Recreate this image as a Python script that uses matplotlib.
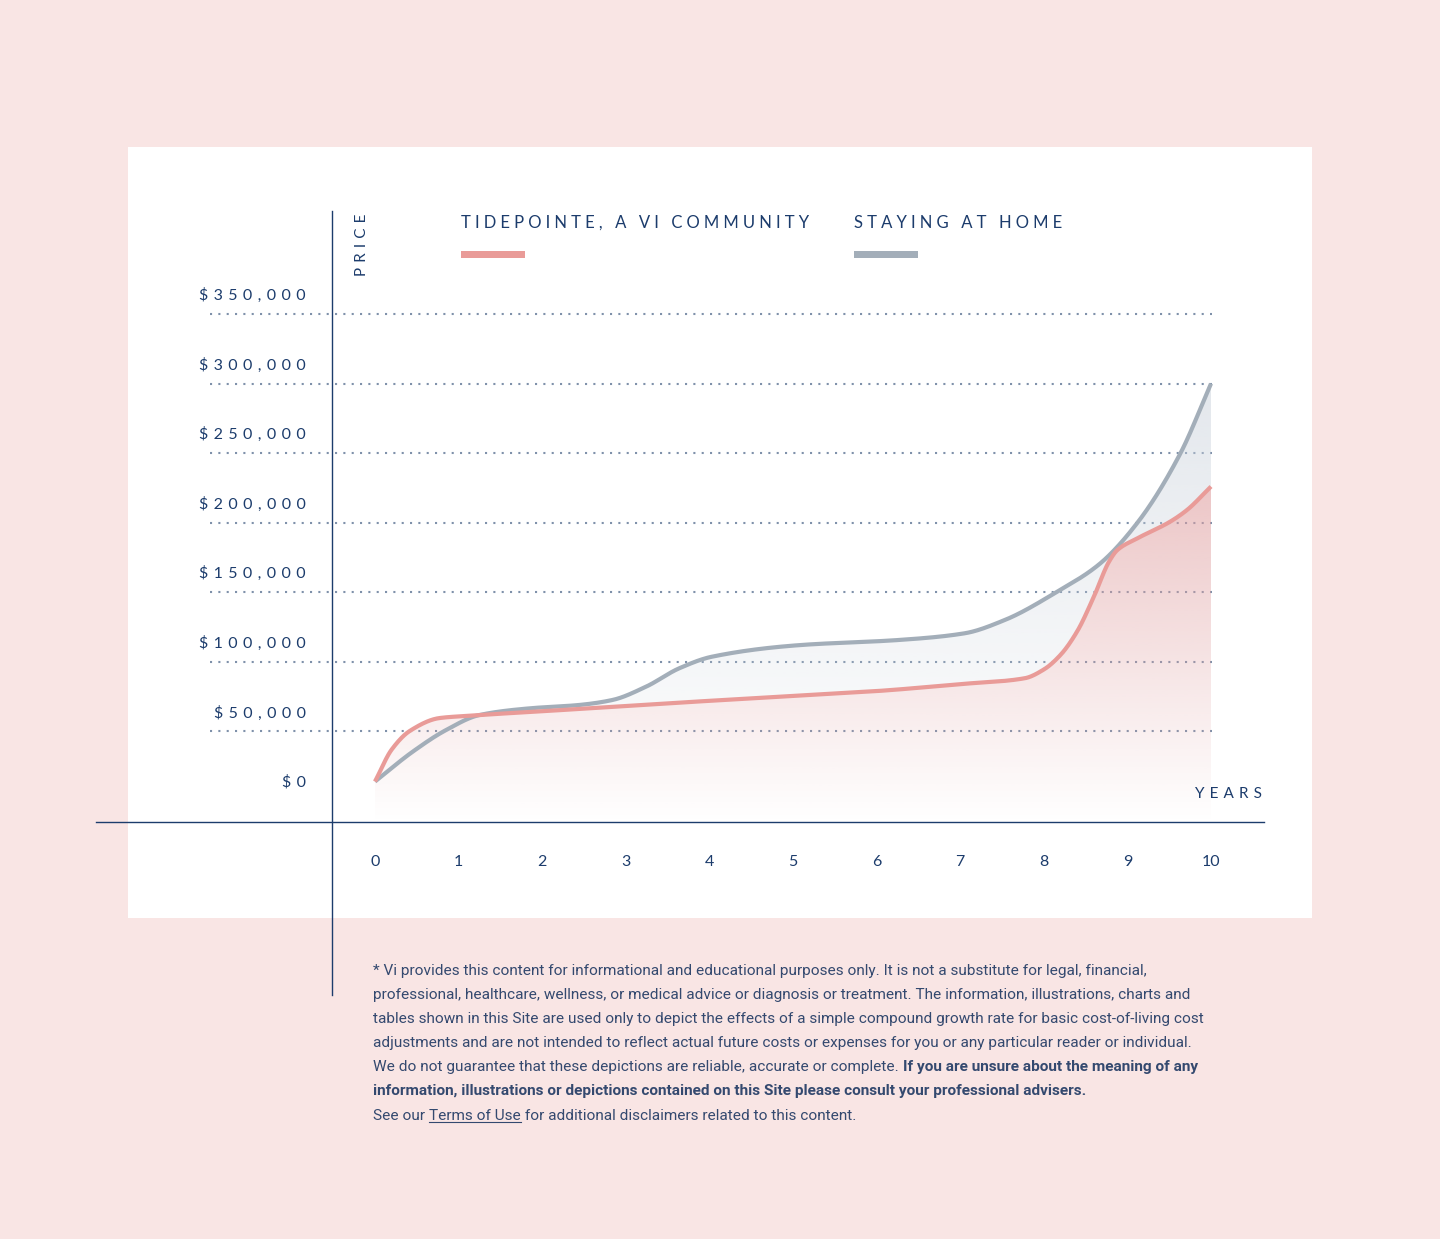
import numpy as np
import matplotlib
matplotlib.use("Agg")
import matplotlib.pyplot as plt
from matplotlib.patches import Rectangle, Polygon
from matplotlib.lines import Line2D
from matplotlib.path import Path
from matplotlib.transforms import ScaledTranslation

# ---------------- data ----------------
years = [0, 1, 2, 3, 4, 5, 6, 7, 8, 9, 10]
price_ticks = [0, 50000, 100000, 150000, 200000, 250000, 300000, 350000]
price_labels = ["$0", "$50,000", "$100,000", "$150,000", "$200,000",
                "$250,000", "$300,000", "$350,000"]

tide_years = [0, 0.2, 0.42, 0.77, 1.05, 2, 3, 4, 5, 6, 7, 7.77, 8.0, 8.2,
              8.4, 8.6, 8.78, 8.88, 9.12, 9.51, 9.71, 10]
tide_values = [14000, 37000, 50500, 59600, 61000, 64500, 68300, 72000, 75500,
               79000, 84000, 88200, 94500, 105000, 122000, 147000, 172000,
               180400, 188800, 200700, 209000, 226000]

home_years = [0, 0.45, 0.85, 1.25, 1.85, 2.44, 2.84, 3.24, 3.64, 4.03, 5.07,
              6.26, 7.05, 7.53, 8.16, 8.66, 9.12, 9.63, 10]
home_values = [14000, 35400, 51000, 61800, 66600, 69000, 72600, 82100, 95400,
               103700, 112000, 115700, 120500, 130000, 150400, 170000, 200000,
               249400, 300000]

series_names = ["TIDEPOINTE, A VI COMMUNITY", "STAYING AT HOME"]

# ---------------- style ----------------
BG = "#F9E5E4"
NAVY = "#1C3C6C"
TEXT = "#34496F"
PINK = "#E99B98"
GRAY = "#A3AEB9"
GRID = "#7F91AA"
FONT = ["Lato", "DejaVu Sans"]
W, H = 1440, 1239

def fx(x):
    return x / W

def fy(y):
    return 1 - y / H

def track(s, sp="\u2004"):
    return sp.join(s)

def pchip(x, y, xs):
    x = np.asarray(x, float); y = np.asarray(y, float)
    h = np.diff(x); d = np.diff(y) / h
    n = len(x)
    m = np.zeros(n)
    for k in range(1, n - 1):
        if d[k - 1] * d[k] <= 0:
            m[k] = 0
        else:
            w1 = 2 * h[k] + h[k - 1]
            w2 = h[k] + 2 * h[k - 1]
            m[k] = (w1 + w2) / (w1 / d[k - 1] + w2 / d[k])
    m[0] = d[0]; m[-1] = d[-1]
    idx = np.clip(np.searchsorted(x, xs) - 1, 0, n - 2)
    t = (xs - x[idx]) / h[idx]
    h00 = 2 * t**3 - 3 * t**2 + 1
    h10 = t**3 - 2 * t**2 + t
    h01 = -2 * t**3 + 3 * t**2
    h11 = t**3 - t**2
    return h00 * y[idx] + h10 * h[idx] * m[idx] + h01 * y[idx + 1] + h11 * h[idx] * m[idx + 1]

fig = plt.figure(figsize=(W / 100, H / 100), dpi=100)
fig.patch.set_facecolor(BG)

# white panel
fig.add_artist(Rectangle((fx(128), fy(918)), fx(1312 - 128), (918 - 147) / H,
                         transform=fig.transFigure, facecolor="white",
                         edgecolor="none", zorder=0))

# axes geometry
X0PX, XSTEP = 375, 83.6
Y0PX, YSTEP = 801, 69.57 / 50000
left_px, right_px, top_px, bot_px = 332, 1264, 211, 822
ax = fig.add_axes([fx(left_px), fy(bot_px), fx(right_px - left_px), (bot_px - top_px) / H])
ax.set_facecolor("none")
xlim = ((left_px - X0PX) / XSTEP, (right_px - X0PX) / XSTEP)
ylim = (-(bot_px - Y0PX) / YSTEP, (Y0PX - top_px) / YSTEP)
for s in ax.spines.values():
    s.set_visible(False)

# gridlines
ax.hlines(price_ticks[1:], (210 - X0PX) / XSTEP, (1212 - X0PX) / XSTEP,
          colors=GRID, linestyles=(0, (1, 3)), linewidth=1.5, clip_on=False, zorder=1)

# curves
xs = np.linspace(0, 10, 1000)
tide_s = pchip(tide_years, tide_values, xs)
home_s = pchip(home_years, home_values, xs)
ybot = ylim[0]

def gradient(rgb, a_top):
    g = np.zeros((256, 1, 4))
    g[..., 0] = rgb[0] / 255; g[..., 1] = rgb[1] / 255; g[..., 2] = rgb[2] / 255
    g[:, 0, 3] = np.linspace(0.0, a_top, 256)
    return g

# gray fill between curves
fb = ax.fill_between(xs, tide_s, home_s, where=home_s >= tide_s, interpolate=True)
gpath = Path.make_compound_path(*fb.get_paths())
fb.remove()
im_g = ax.imshow(gradient((200, 208, 218), 0.5), extent=[0, 10, ybot, max(home_values)],
                 origin="lower", aspect="auto", zorder=2, interpolation="bilinear")
im_g.set_clip_path(gpath, ax.transData)

# pink fill under Tidepointe
verts = np.column_stack([np.r_[xs, 10, 0], np.r_[tide_s, ybot, ybot]])
ppatch = Polygon(verts, closed=True, transform=ax.transData)
im_p = ax.imshow(gradient((224, 160, 161), 0.6), extent=[0, 10, ybot, max(tide_values)],
                 origin="lower", aspect="auto", zorder=3, interpolation="bilinear")
im_p.set_clip_path(ppatch)

ax.plot(xs, home_s, color=GRAY, lw=3.0, zorder=4, solid_capstyle="butt")
ax.plot(xs, tide_s, color=PINK, lw=3.0, zorder=5, solid_capstyle="butt")

ax.set_xlim(*xlim)
ax.set_ylim(*ylim)

# ticks
ax.set_xticks(years)
ax.set_xticklabels([str(y) for y in years], fontfamily=FONT, fontsize=11.5, color=NAVY)
ax.set_yticks(price_ticks)
ax.set_yticklabels([track(l) for l in price_labels], fontfamily=FONT, fontsize=11.5, color=NAVY)
ax.tick_params(axis="x", length=0, pad=24)
ax.tick_params(axis="y", length=0, pad=19)
off = ScaledTranslation(0, 20 / 100, fig.dpi_scale_trans)
for lbl in ax.get_yticklabels():
    lbl.set_transform(lbl.get_transform() + off)

# axis lines
fig.add_artist(Line2D([fx(332), fx(332)], [fy(211), fy(995)], transform=fig.transFigure,
                      color=NAVY, lw=1.0, zorder=6))
fig.add_artist(Line2D([fx(96), fx(1264)], [fy(822), fy(822)], transform=fig.transFigure,
                      color=NAVY, lw=1.0, zorder=6))

# axis titles
fig.text(fx(362), fy(245), track("PRICE"), rotation=90, ha="center", va="center",
         fontfamily=FONT, fontsize=11, color=NAVY)
fig.text(fx(1262), fy(794), track("YEARS"), ha="right", va="center",
         fontfamily=FONT, fontsize=11, color=NAVY)

# legend
for name, col, x0 in zip(series_names, [PINK, GRAY], [461, 854]):
    fig.text(fx(x0), fy(223), track(name, "\u2005"), ha="left", va="center",
             fontfamily=FONT, fontsize=12, color=NAVY)
    fig.add_artist(Rectangle((fx(x0), fy(258)), fx(64), 7 / H, transform=fig.transFigure,
                             facecolor=col, edgecolor="none"))

# footnote
renderer = fig.canvas.get_renderer()
FN = ["Roboto", "DejaVu Sans"]
lines = [
    [("* Vi provides this content for informational and educational purposes only. It is not a substitute for legal, financial,", "normal", False)],
    [("professional, healthcare, wellness, or medical advice or diagnosis or treatment. The information, illustrations, charts and", "normal", False)],
    [("tables shown in this Site are used only to depict the effects of a simple compound growth rate for basic cost-of-living cost", "normal", False)],
    [("adjustments and are not intended to reflect actual future costs or expenses for you or any particular reader or individual.", "normal", False)],
    [("We do not guarantee that these depictions are reliable, accurate or complete. ", "normal", False),
     ("If you are unsure about the meaning of any", "bold", False)],
    [("information, illustrations or depictions contained on this Site please consult your professional advisers.", "bold", False)],
    [("See our ", "normal", False), ("Terms of Use", "normal", True),
     (" for additional disclaimers related to this content.", "normal", False)],
]
# fit font size so that the first line spans the same width as the reference
probe = fig.text(0, 0, lines[0][0][0], fontfamily=FN, fontsize=10, fontweight="normal")
pw = probe.get_window_extent(renderer=renderer).width
probe.remove()
FS = 10 * (1147 - 373) / pw
for i, segs in enumerate(lines):
    ypx = 970 + 24 * i
    xpx = 373
    for txt, wt, ul in segs:
        t = fig.text(fx(xpx), fy(ypx), txt, ha="left", va="center_baseline",
                     fontfamily=FN, fontsize=FS, fontweight=wt, color=TEXT)
        bb = t.get_window_extent(renderer=renderer)
        if ul:
            fig.add_artist(Line2D([bb.x0 / W, bb.x1 / W], [fy(ypx + 8), fy(ypx + 8)],
                                  transform=fig.transFigure, color=TEXT, lw=0.8))
        xpx += bb.width

fig.savefig("out.png", dpi=100, facecolor=BG)
